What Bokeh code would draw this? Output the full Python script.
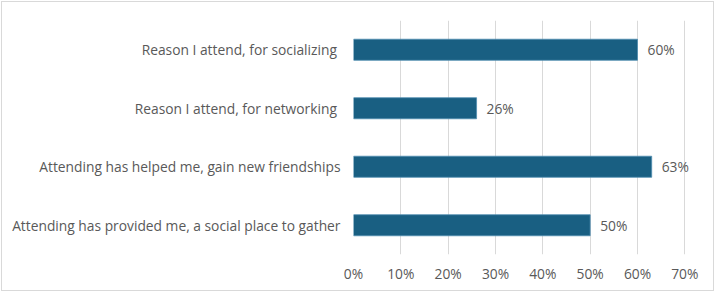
from bokeh.plotting import figure
from bokeh.models import ColumnDataSource, FactorRange, Range1d, FixedTicker, NumeralTickFormatter, LabelSet
from bokeh.core.properties import value
from bokeh.embed import file_html
from bokeh.resources import INLINE

categories = [
    "Reason  I attend, for socializing",
    "Reason I  attend, for networking",
    "Attending has helped me, gain new friendships",
    "Attending has provided me, a social place to gather",
]
values = [0.60, 0.26, 0.63, 0.50]
x_ticks = [0, 0.1, 0.2, 0.3, 0.4, 0.5, 0.6, 0.7]

FONT = "Open Sans"
TXT = "#595959"

labels = [f"{round(v * 100)}%" for v in values]
src = ColumnDataSource(dict(cat=categories, val=values, lab=labels))

p = figure(
    width=713, height=290,
    y_range=FactorRange(*reversed(categories)),
    x_range=Range1d(0, 0.75),
    output_backend="svg", toolbar_location=None,
    min_border_left=351, min_border_right=7,
    min_border_top=18, min_border_bottom=38,
)
p.margin = (1, 0, 0, 1)
p.styles = {"border": "1px solid #D9D9D9"}
p.outline_line_color = None
p.background_fill_color = "white"
p.border_fill_color = "white"

p.hbar(y="cat", right="val", left=0, height=0.36, source=src,
       fill_color="#195F82", line_color="#4F8DB0", line_width=0.8)

p.add_layout(LabelSet(x="val", y="cat", text="lab", source=src, x_offset=10,
                      text_align="left", text_baseline="middle",
                      text_font=value(FONT), text_font_size="13.8px", text_color=TXT))

p.xaxis.ticker = FixedTicker(ticks=x_ticks)
p.xaxis.formatter = NumeralTickFormatter(format="0%")
p.xaxis.axis_line_color = None
p.xaxis.major_tick_line_color = None
p.xaxis.minor_tick_line_color = None
p.xaxis.major_tick_out = 0
p.xaxis.major_tick_in = 0
p.xaxis.major_label_standoff = 9
p.xaxis.major_label_text_font = FONT
p.xaxis.major_label_text_font_size = "13.8px"
p.xaxis.major_label_text_color = TXT

p.yaxis.axis_line_color = None
p.yaxis.major_tick_line_color = None
p.yaxis.major_tick_out = 0
p.yaxis.major_tick_in = 0
p.yaxis.major_label_standoff = 13
p.yaxis.major_label_text_font = FONT
p.yaxis.major_label_text_font_size = "13.8px"
p.yaxis.major_label_text_color = TXT

p.ygrid.grid_line_color = None
p.xgrid.grid_line_color = "#D9D9D9"
p.xgrid.grid_line_width = 1

open("out.html", "w").write(file_html(p, INLINE))
